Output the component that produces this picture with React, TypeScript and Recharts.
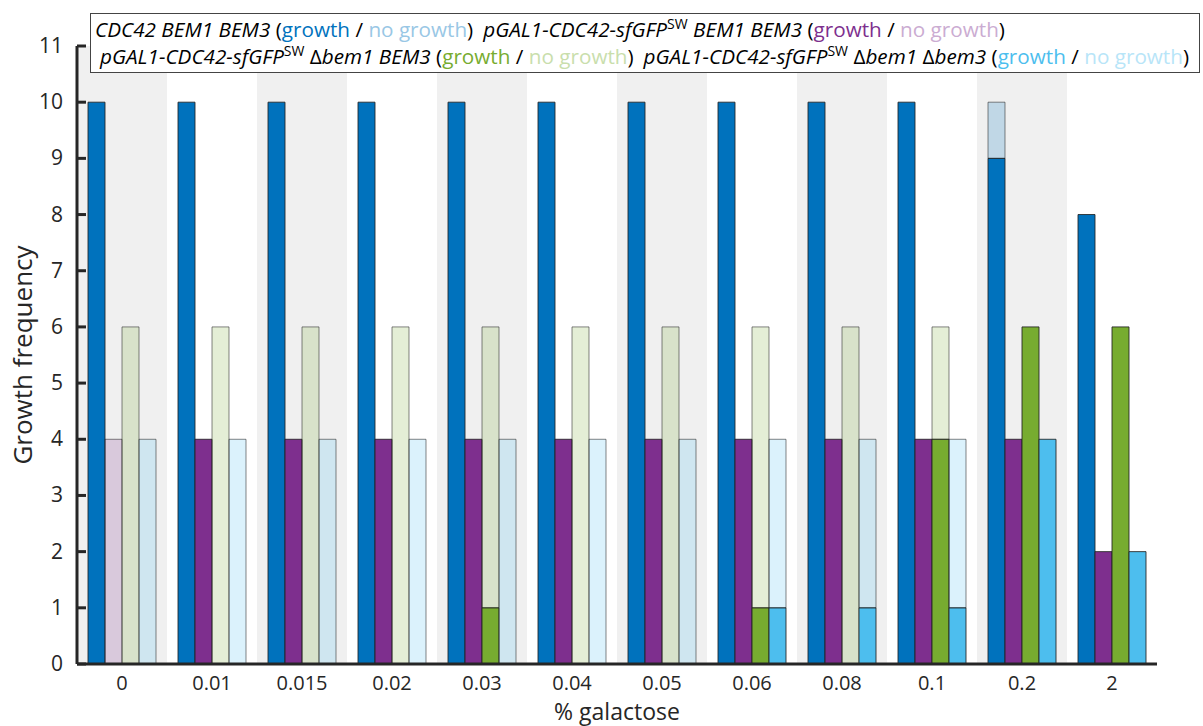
import { BarChart, Bar, XAxis, YAxis, ReferenceArea, Legend, Label } from 'recharts'

// % galactose categories
const galactose = ['0', '0.01', '0.015', '0.02', '0.03', '0.04', '0.05', '0.06', '0.08', '0.1', '0.2', '2']

// growth / no growth counts per strain
const wtGrowth = [10, 10, 10, 10, 10, 10, 10, 10, 10, 10, 9, 8]
const wtNoGrowth = [0, 0, 0, 0, 0, 0, 0, 0, 0, 0, 1, 0]
const galGrowth = [0, 4, 4, 4, 4, 4, 4, 4, 4, 4, 4, 2]
const galNoGrowth = [4, 0, 0, 0, 0, 0, 0, 0, 0, 0, 0, 0]
const bem1Growth = [0, 0, 0, 0, 1, 0, 0, 1, 0, 4, 6, 6]
const bem1NoGrowth = [6, 6, 6, 6, 5, 6, 6, 5, 6, 2, 0, 0]
const bem1bem3Growth = [0, 0, 0, 0, 0, 0, 0, 1, 1, 1, 4, 2]
const bem1bem3NoGrowth = [4, 4, 4, 4, 4, 4, 4, 3, 3, 3, 0, 0]

const yTicks = [0, 1, 2, 3, 4, 5, 6, 7, 8, 9, 10, 11]

const FONT = '"Open Sans", sans-serif'
const INK = '#262626'

const strains = [
  { key: 'wt', color: '#0072bd', light: '#99c7e5' },
  { key: 'gal', color: '#7e2f8e', light: '#cbacd2' },
  { key: 'bem1', color: '#77ac30', light: '#c9deac' },
  { key: 'bem1bem3', color: '#4dbeee', light: '#b8e5f8' },
]

const data = galactose.map((g, i) => ({
  galactose: g,
  wtGrowth: wtGrowth[i],
  wtNoGrowth: wtNoGrowth[i],
  galGrowth: galGrowth[i],
  galNoGrowth: galNoGrowth[i],
  bem1Growth: bem1Growth[i],
  bem1NoGrowth: bem1NoGrowth[i],
  bem1bem3Growth: bem1bem3Growth[i],
  bem1bem3NoGrowth: bem1bem3NoGrowth[i],
}))

const YTick = ({ x, y, payload }: any) => (
  <g>
    <line x1={x} x2={x + 9} y1={y} y2={y} stroke={INK} strokeWidth={3} />
    <text x={x - 14} y={y + 7} textAnchor="end" fontFamily={FONT} fontSize={21} fill={INK}>
      {payload.value}
    </text>
  </g>
)

const GrowthText = ({ color, light }: { color: string; light: string }) => (
  <span>
    {' ('}
    <span style={{ color }}>growth</span>
    {' / '}
    <span style={{ color: light }}>no growth</span>
    {')'}
  </span>
)

const Pgal = () => (
  <>
    <i>pGAL1-CDC42-sfGFP</i>
    <span style={{ fontSize: 14, position: 'relative', top: -8, lineHeight: '14px' }}>SW</span>
  </>
)

const LegendBox = () => (
  <div
    style={{
      boxSizing: 'border-box',
      width: 1110,
      height: 60,
      border: '1px solid #444',
      background: '#fff',
      fontFamily: FONT,
      fontSize: 20.7,
      lineHeight: '27px',
      color: '#000',
      whiteSpace: 'nowrap',
      padding: '2px 0 0 4px',
    }}
  >
    <div>
      <i>CDC42 BEM1 BEM3</i>
      <GrowthText color={strains[0].color} light={strains[0].light} />
      <span style={{ marginLeft: 10 }}>
        <Pgal /> <i>BEM1 BEM3</i>
      </span>
      <GrowthText color={strains[1].color} light={strains[1].light} />
    </div>
    <div style={{ paddingLeft: 5 }}>
      <Pgal /> {'\u0394'}
      <i>bem1 BEM3</i>
      <GrowthText color={strains[2].color} light={strains[2].light} />
      <span style={{ marginLeft: 10 }}>
        <Pgal /> {'\u0394'}
        <i>bem1</i> {'\u0394'}
        <i>bem3</i>
      </span>
      <GrowthText color={strains[3].color} light={strains[3].light} />
    </div>
  </div>
)

export default function App() {
  return (
    <div style={{ position: 'absolute', left: 0, top: 0, background: '#fff' }}>
      <BarChart
        width={1203}
        height={726}
        data={data}
        margin={{ top: 46, right: 46, left: 0, bottom: 0 }}
        barSize={17}
        barGap={0}
      >
        {galactose.map((g, i) =>
          i % 2 === 0 ? (
            <ReferenceArea key={g} x1={g} x2={g} y1={0} y2={11} fill="#f0f0f0" fillOpacity={1} stroke="none" />
          ) : null,
        )}
        {strains.map((s) => [
          <Bar
            key={s.key + 'g'}
            dataKey={s.key + 'Growth'}
            stackId={s.key}
            fill={s.color}
            stroke="#222"
            strokeOpacity={0.85}
            isAnimationActive={false}
          />,
          <Bar
            key={s.key + 'n'}
            dataKey={s.key + 'NoGrowth'}
            stackId={s.key}
            fill={s.color}
            fillOpacity={0.2}
            stroke="#222"
            strokeOpacity={0.55}
            isAnimationActive={false}
          />,
        ])}
        <XAxis
          dataKey="galactose"
          height={62}
          axisLine={{ stroke: INK, strokeWidth: 3 }}
          tickLine={false}
          tickSize={0}
          tickMargin={12}
          tick={{ fontFamily: FONT, fontSize: 20, fill: INK }}
          interval={0}
        >
          <Label value="% galactose" position="insideBottom" offset={6} style={{ fontFamily: FONT, fontSize: 23, fill: INK }} />
        </XAxis>
        <YAxis
          width={77}
          domain={[0, 11]}
          ticks={yTicks}
          interval={0}
          axisLine={{ stroke: INK, strokeWidth: 3 }}
          tickLine={false}
          tickSize={0}
          tickMargin={0}
          tick={<YTick />}
        >
          <Label
            value="Growth frequency"
            angle={-90}
            position="insideLeft"
            offset={23}
            style={{ fontFamily: FONT, fontSize: 26, fill: INK, textAnchor: 'middle' }}
          />
        </YAxis>
        <Legend
          layout="vertical"
          align="center"
          verticalAlign="middle"
          content={<LegendBox />}
          wrapperStyle={{ position: 'absolute', top: 13, left: 90, width: 1110, height: 60 }}
        />
      </BarChart>
    </div>
  )
}
